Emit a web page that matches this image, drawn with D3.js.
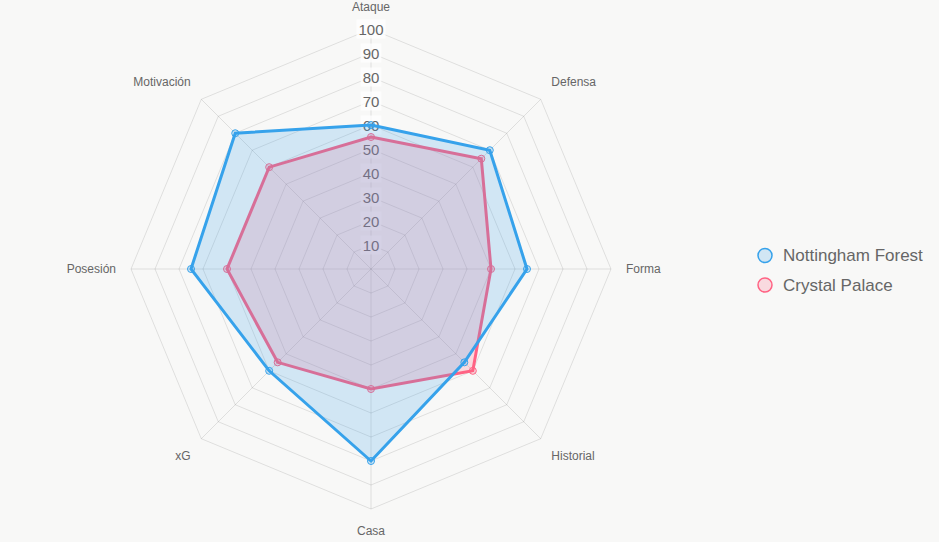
<!DOCTYPE html>
<html>
<head>
<meta charset="utf-8">
<script src="https://cdn.jsdelivr.net/npm/d3@7"></script>
<style>
  html, body { margin: 0; padding: 0; background: #f8f8f7; }
  #radar { width: 939px; height: 542px; }
  text { font-family: "Helvetica Neue", Helvetica, Arial, "Liberation Sans", sans-serif; }
</style>
</head>
<body>
<div id="radar"></div>
<script>
'use strict'

// categories (clockwise from top)
const categories = ['Ataque', 'Defensa', 'Forma', 'Historial', 'Casa', 'xG', 'Posesión', 'Motivación']

// series values
const forestValues = [60, 70, 65, 55, 80, 60, 75, 80]
const palaceValues = [55, 65, 50, 60, 50, 55, 60, 60]

const seriesNames = ['Nottingham Forest', 'Crystal Palace']

// radial tick labels
const tickValues = [10, 20, 30, 40, 50, 60, 70, 80, 90, 100]

////////////////////////////////////
//////////// svg setup /////////////
////////////////////////////////////

const svgWidth = 939
const svgHeight = 542
const cx = 371
const cy = 269
const radius = 240

const svg = d3.select('#radar').append('svg')
    .attr('width', svgWidth)
    .attr('height', svgHeight)

const g = svg.append('g')
    .attr('transform', `translate(${cx},${cy})`)

////////////////////////////////////
//////////////scales////////////////
////////////////////////////////////

const rScale = d3.scaleLinear().domain([0, 100]).range([0, radius])
const angle = d3.scalePoint()
    .domain(categories)
    .range([0, 2 * Math.PI * (categories.length - 1) / categories.length])

const px = (c, v) => rScale(v) * Math.sin(angle(c))
const py = (c, v) => -rScale(v) * Math.cos(angle(c))

const colors = {
    forest: '#36a2eb',
    palace: '#ff6384'
}

////////////////////////////////////
/////////////// grid ///////////////
////////////////////////////////////

const gridColor = 'rgba(0,0,0,0.1)'

g.append('g').selectAll('polygon')
    .data(tickValues)
    .join('polygon')
    .attr('points', t => categories.map(c => [px(c, t), py(c, t)].join(',')).join(' '))
    .attr('fill', 'none')
    .attr('stroke', gridColor)
    .attr('stroke-width', 1)

g.append('g').selectAll('line')
    .data(categories)
    .join('line')
    .attr('x1', 0).attr('y1', 0)
    .attr('x2', c => px(c, 100))
    .attr('y2', c => py(c, 100))
    .attr('stroke', gridColor)
    .attr('stroke-width', 1)

// point labels
const labelPad = 15
const labelH = 14
g.append('g').selectAll('text')
    .data(categories)
    .join('text')
    .attr('x', c => (radius + labelPad) * Math.sin(angle(c)))
    .attr('y', c => {
        const cos = Math.cos(angle(c))
        const y = -(radius + labelPad) * cos
        if (Math.abs(cos) < 0.01) return y
        return y - Math.sign(cos) * labelH / 2
    })
    .attr('text-anchor', c => {
        const s = Math.sin(angle(c))
        if (Math.abs(s) < 0.01) return 'middle'
        return s > 0 ? 'start' : 'end'
    })
    .attr('dominant-baseline', 'central')
    .attr('font-size', 12)
    .attr('fill', '#666')
    .text(c => c)

// tick labels with backdrop
const ticks = g.append('g').selectAll('g')
    .data(tickValues)
    .join('g')
    .attr('transform', t => `translate(0,${-rScale(t)})`)

ticks.append('text')
    .attr('text-anchor', 'middle')
    .attr('dominant-baseline', 'central')
    .attr('font-size', 15)
    .attr('fill', '#666')
    .text(t => t)
    .each(function () {
        const b = this.getBBox()
        d3.select(this.parentNode).insert('rect', 'text')
            .attr('x', b.x - 2)
            .attr('y', b.y - 1)
            .attr('width', b.width + 4)
            .attr('height', b.height + 2)
            .attr('fill', 'rgba(255,255,255,0.75)')
    })

////////////////////////////////////
/////////////// data ///////////////
////////////////////////////////////

const series = [
    { name: seriesNames[1], values: palaceValues, color: colors.palace },
    { name: seriesNames[0], values: forestValues, color: colors.forest }
]

const line = d3.lineRadial()
    .angle((d, i) => angle(categories[i]))
    .radius(d => rScale(d))
    .curve(d3.curveLinearClosed)

series.forEach(s => {
    const layer = g.append('g')
    layer.append('path')
        .attr('d', line(s.values))
        .attr('fill', d3.color(s.color).copy({ opacity: 0.2 }))
        .attr('stroke', s.color)
        .attr('stroke-width', 3)
        .attr('stroke-linejoin', 'miter')

    layer.selectAll('circle')
        .data(s.values)
        .join('circle')
        .attr('cx', (d, i) => px(categories[i], d))
        .attr('cy', (d, i) => py(categories[i], d))
        .attr('r', 3.5)
        .attr('fill', d3.color(s.color).copy({ opacity: 0.2 }))
        .attr('stroke', s.color)
        .attr('stroke-width', 1)
})

////////////////////////////////////
////////////// legend //////////////
////////////////////////////////////

const legend = svg.append('g')
    .attr('transform', 'translate(765,255.5)')

const legendItems = legend.selectAll('g')
    .data([
        { name: seriesNames[0], color: colors.forest },
        { name: seriesNames[1], color: colors.palace }
    ])
    .join('g')
    .attr('transform', (d, i) => `translate(0,${i * 29.5})`)

legendItems.append('circle')
    .attr('r', 7)
    .attr('fill', d => d3.color(d.color).copy({ opacity: 0.2 }))
    .attr('stroke', d => d.color)
    .attr('stroke-width', 1.5)

legendItems.append('text')
    .attr('x', 18)
    .attr('dominant-baseline', 'central')
    .attr('font-size', 17)
    .attr('fill', '#666')
    .text(d => d.name)
</script>
</body>
</html>
